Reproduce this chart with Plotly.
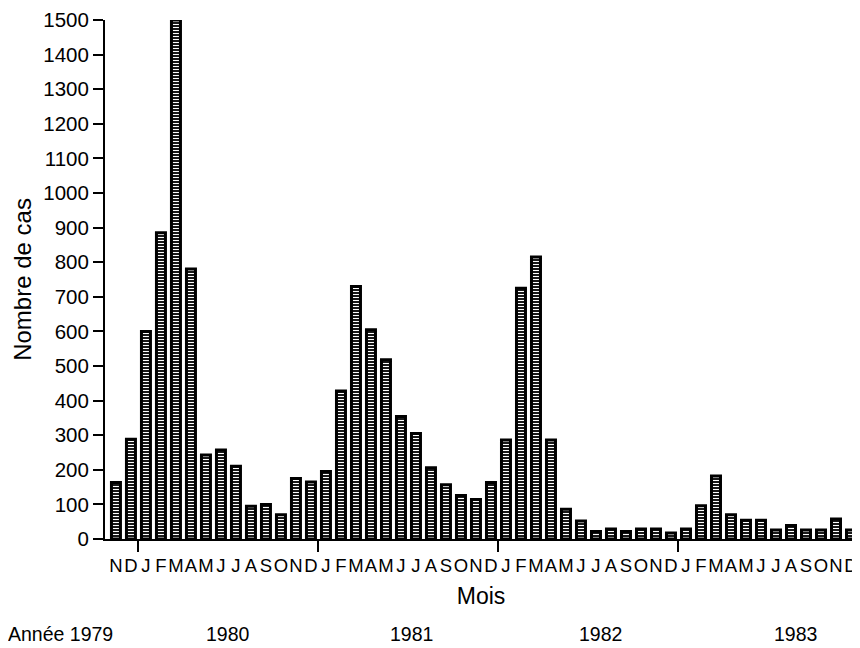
import plotly.graph_objects as go

# Month labels (Nov 1979 .. Dec 1983)
months = ["N", "D"] + ["J", "F", "M", "A", "M", "J", "J", "A", "S", "O", "N", "D"] * 4

# Number of cases per month
cases_1979 = [163, 288]
cases_1980 = [600, 885, 1500, 780, 243, 257, 210, 95, 100, 70, 175, 165]
cases_1981 = [195, 428, 730, 605, 518, 354, 305, 206, 157, 126, 114, 163]
cases_1982 = [286, 725, 815, 286, 86, 52, 22, 29, 22, 29, 29, 17]
cases_1983 = [29, 96, 182, 70, 54, 54, 26, 39, 26, 26, 58, 26]

cases = cases_1979 + cases_1980 + cases_1981 + cases_1982 + cases_1983
idx = list(range(len(cases)))

# Year separators (between December and January)
year_breaks = [1.5, 13.5, 25.5, 37.5]
# Year labels and their positions along the month axis
year_labels = ["Année 1979", "1980", "1981", "1982", "1983"]
year_pos = [-0.05, 7.5, 19.7, 32.3, 45.3]

FONT = "Liberation Sans, Arial, Helvetica, sans-serif"

fig = go.Figure()
fig.add_trace(go.Bar(
    x=idx, y=cases, width=0.6,
    marker=dict(
        color="black",
        line=dict(color="black", width=3),
        pattern=dict(shape="-", fgcolor="white", bgcolor="black",
                     size=3, solidity=0.4, fillmode="replace"),
    ),
    showlegend=False,
))
# invisible trace on second axis for the year separator ticks
fig.add_trace(go.Scatter(x=[year_breaks[0]], y=[0], xaxis="x2", mode="markers",
                         marker=dict(opacity=0), showlegend=False, hoverinfo="skip"))

fig.update_layout(
    width=852, height=640,
    margin=dict(l=97, r=3, t=12, b=109),
    plot_bgcolor="white", paper_bgcolor="white",
    font=dict(family=FONT, color="black"),
    bargap=0.4,
    xaxis=dict(
        range=[-0.73, 49.4], automargin=False,
        tickmode="array", tickvals=idx, ticktext=months, tickangle=0,
        ticks="", showline=True, linewidth=2, linecolor="black",
        showgrid=False, zeroline=False,
        tickfont=dict(size=18.5, family=FONT),
        ticklabelstandoff=9,
        title=dict(text="Mois", font=dict(size=23, family=FONT), standoff=13),
    ),
    xaxis2=dict(
        overlaying="x", matches="x", anchor="y", side="bottom", automargin=False,
        tickmode="array", tickvals=year_breaks,
        ticks="outside", ticklen=12, tickwidth=1.5, tickcolor="black",
        showticklabels=False, showline=False, showgrid=False, zeroline=False,
    ),
    yaxis=dict(
        range=[0, 1500], dtick=100, tick0=0, automargin=False,
        ticks="outside", ticklen=10, tickwidth=2, tickcolor="black",
        showline=True, linewidth=2, linecolor="black",
        showgrid=False, zeroline=False,
        tickfont=dict(size=20.5, family=FONT),
        title=dict(text="Nombre de cas", font=dict(size=24, family=FONT), standoff=5),
    ),
)

for i, (lab, xp) in enumerate(zip(year_labels, year_pos)):
    fig.add_annotation(
        x=xp, y=-0.183, xref="x", yref="paper",
        text=lab, showarrow=False,
        xanchor="right" if i == 0 else "center", yanchor="middle",
        font=dict(size=19.5, family=FONT),
    )

fig.write_html("out.html")
